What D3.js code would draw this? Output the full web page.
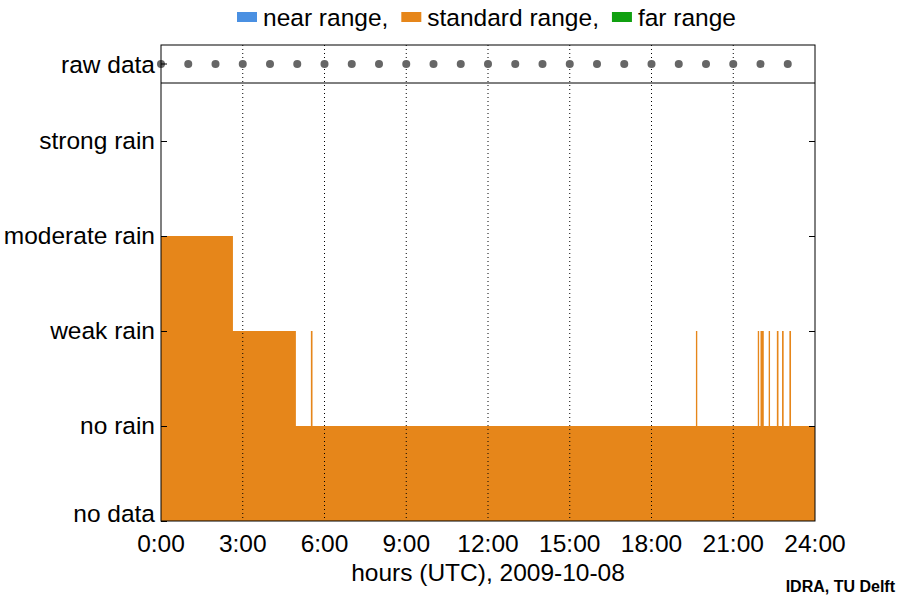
<!DOCTYPE html>
<html><head><meta charset="utf-8">
<script src="https://cdn.jsdelivr.net/npm/d3@7"></script>
<style>body{margin:0;background:#fff}text{font-family:"Liberation Sans",Arial,sans-serif}</style>
</head><body><div id="chart"></div>
<script>
const levels = ["no data", "no rain", "weak rain", "moderate rain", "strong rain"];
// [start hour, end hour, level index]
const standardRange = [
	[0, 2.64, 3], [2.64, 4.95, 2], [4.95, 5.5, 1], [5.5, 5.56, 2], [5.56, 19.63, 1],
	[19.63, 19.68, 2], [19.68, 21.9, 1], [21.9, 21.95, 2], [21.95, 22.0, 1],
	[22.0, 22.12, 2], [22.12, 22.3, 1], [22.3, 22.35, 2], [22.35, 22.6, 1],
	[22.6, 22.66, 2], [22.66, 22.79, 1], [22.79, 22.85, 2], [22.85, 23.06, 1],
	[23.06, 23.12, 2], [23.12, 24, 1]
];
const rawHours = d3.range(0, 24);
const xTicks = [0, 3, 6, 9, 12, 15, 18, 21, 24];
const legendItems = [["near range,", "#4a90e2"], ["standard range,", "#e6861a"], ["far range", "#10a010"]];

const width = 900, height = 600;
const margin = { left: 161, right: 85 };
const fs = 24.5;
const svg = d3.select("#chart").append("svg").attr("width", width).attr("height", height);

const x = d3.scaleLinear().domain([0, 24]).range([margin.left, width - margin.right]);
const y = d3.scaleLinear().domain([0, 4]).range([521, 141]);
const rawTop = 45, rawBottom = 83, rawY = 64;

// area
const area = d3.area().curve(d3.curveStepAfter)
	.x(d => x(d[0])).y0(y(0)).y1(d => y(d[1]));
const pts = standardRange.map(d => [d[0], d[2]]);
pts.push([24, standardRange[standardRange.length - 1][2]]);
svg.append("path").attr("fill", "#e6861a").attr("d", area(pts));

// grid
svg.append("g").selectAll("line").data(xTicks.slice(1, -1)).join("line")
	.attr("x1", d => x(d)).attr("x2", d => x(d)).attr("y1", rawTop).attr("y2", 521)
	.attr("stroke", "#000").attr("stroke-dasharray", "1,3");

// raw data dots
svg.append("g").selectAll("circle").data(rawHours).join("circle")
	.attr("cx", d => x(d)).attr("cy", rawY).attr("r", 4).attr("fill", "#666");

// frames
svg.append("rect").attr("x", x(0)).attr("y", rawTop).attr("width", x(24) - x(0)).attr("height", 521 - rawTop)
	.attr("fill", "none").attr("stroke", "#000");
svg.append("line").attr("x1", x(0)).attr("x2", x(24)).attr("y1", rawBottom).attr("y2", rawBottom).attr("stroke", "#000");

// y ticks
const yAxisL = d3.axisLeft(y).tickValues([0, 1, 2, 3, 4]).tickSize(-6).tickPadding(6).tickFormat(i => levels[i]);
const gl = svg.append("g").attr("transform", `translate(${x(0)},0)`).call(yAxisL);
const gr = svg.append("g").attr("transform", `translate(${x(24)},0)`).call(d3.axisRight(y).tickValues([1, 2, 3, 4]).tickSize(-6).tickFormat(""));
[gl, gr].forEach(g => g.select(".domain").remove());
gl.selectAll(".tick").filter(d => d === 0).select("text").attr("dy", "0");
svg.selectAll(".tick text").attr("font-size", fs).attr("fill", "#000").attr("font-family", "Liberation Sans, Arial, sans-serif");
svg.append("text").attr("x", x(0) - 6).attr("y", rawY).attr("dy", "0.35em").attr("text-anchor", "end")
	.attr("font-size", fs).text("raw data");
svg.append("line").attr("x1", x(0)).attr("x2", x(0) + 6).attr("y1", rawY).attr("y2", rawY).attr("stroke", "#000");

// x labels
svg.append("g").selectAll("text").data(xTicks).join("text")
	.attr("x", d => x(d)).attr("y", 552).attr("text-anchor", "middle").attr("font-size", fs)
	.text(d => d + ":00");
svg.append("text").attr("x", x(12)).attr("y", 581).attr("text-anchor", "middle").attr("font-size", fs)
	.text("hours (UTC), 2009-10-08");
svg.append("text").attr("x", 895).attr("y", 592).attr("text-anchor", "end").attr("font-size", 16)
	.attr("font-weight", "bold").text("IDRA, TU Delft");

// legend
let lx = 237;
const leg = svg.append("g");
legendItems.forEach(([label, color]) => {
	leg.append("rect").attr("x", lx).attr("y", 12).attr("width", 20).attr("height", 10).attr("fill", color);
	const t = leg.append("text").attr("x", lx + 26).attr("y", 26).attr("font-size", fs).text(label);
	lx += 26 + t.node().getComputedTextLength() + 13;
});
</script></body></html>
